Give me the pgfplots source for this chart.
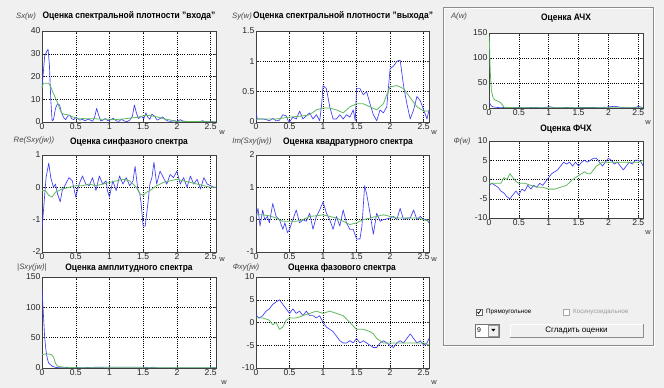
\documentclass[border=0pt]{standalone}
\usepackage{pgfplots}
\pgfplotsset{compat=1.18}
\usepackage{graphicx}
\usepackage{fontspec}
\setmainfont{Liberation Sans}
\definecolor{bg}{RGB}{240,240,240}
\definecolor{mblue}{RGB}{60,60,245}
\definecolor{mgreen}{RGB}{95,185,95}
\definecolor{lbl}{RGB}{70,70,70}
\pgfplotsset{
  gui/.style={
    scale only axis, anchor=south west,
    xmin=0, xmax=2.58,
    xtick={0,0.5,1,1.5,2,2.5},
    grid=major,
    major grid style={black, line width=0.4pt, dash pattern=on 0.9pt off 1.3pt},
    axis background/.style={fill=white},
    axis line style={black!75, line width=0.5pt},
    tick style={black!75, line width=0.4pt},
    major tick length=2bp,
    tick align=inside,
    ticklabel style={font=\fontsize{8.6}{9}\selectfont, text=black!85},
    /pgf/number format/assume math mode=true,
    xticklabel style={inner sep=1.5pt},
    yticklabel style={inner sep=1.5pt},
    every axis plot/.append style={no markers, line join=round},
  },
  bl/.style={mblue, line width=0.65pt},
  gr/.style={mgreen, line width=0.8pt},
}
\newcommand\ttl[3]{\node[font=\bfseries\fontsize{9.4}{10}\selectfont] at (#1bp,#2bp) {\scalebox{0.9}[1]{#3}};}
\newcommand\ylab[3]{\node[font=\itshape\fontsize{7.8}{9}\selectfont, text=lbl] at (#1bp,#2bp) {#3};}
\newcommand\wlab[2]{\node[font=\fontsize{7.5}{8}\selectfont, text=black!80] at (#1bp,#2bp) {w};}
\begin{document}
\begin{tikzpicture}
\path[use as bounding box, fill=bg] (0,0) rectangle (664bp,388bp);
% panel
\draw[black!45, line width=0.6pt] (443bp,43bp) rectangle (653bp,381bp);
\draw[white, line width=0.6pt] (444bp,44bp) -- (444bp,380bp) -- (652bp,380bp);
\draw[white, line width=0.6pt] (443bp,42bp) -- (654bp,42bp) -- (654bp,381bp);

% ---------- Plot 1: Sx ----------
\begin{axis}[gui, at={(42bp,266bp)}, width=174bp, height=91bp,
  ymin=0, ymax=40, ytick={0,10,20,30,40}]
\addplot[bl] coordinates {(0,15) (0.02,22) (0.04,29) (0.07,31) (0.09,32) (0.11,25) (0.13,10) (0.15,0.5) (0.17,1) (0.2,6) (0.23,8) (0.26,7.5) (0.29,4) (0.32,2) (0.35,1) (0.38,2.5) (0.41,3) (0.44,1.5) (0.47,1) (0.5,2) (0.53,1.5) (0.56,0.8) (0.6,1.2) (0.64,0.5) (0.68,1.3) (0.72,0.8) (0.75,0.3) (0.78,2) (0.81,6) (0.84,3) (0.87,0.5) (0.9,0.8) (0.94,1.5) (0.98,0.5) (1.02,1) (1.06,1.6) (1.1,0.5) (1.14,0.3) (1.18,1.2) (1.22,0.4) (1.26,0.2) (1.3,0.8) (1.34,2.5) (1.37,7.5) (1.40,4) (1.43,1.5) (1.47,2.5) (1.51,1.5) (1.54,4) (1.57,2) (1.6,1.2) (1.63,3.5) (1.67,2.5) (1.71,0.8) (1.75,1.5) (1.79,2.2) (1.83,1) (1.87,0.4) (1.92,0.3) (1.96,0.6) (2.0,0.2) (2.05,1) (2.1,0.3) (2.15,0.2) (2.2,0.1) (2.25,0.3) (2.3,0.1) (2.35,0.2) (2.38,0.6) (2.42,0.1) (2.5,0.1) (2.58,0.05)};
\addplot[gr] coordinates {(0,15) (0.02,17) (0.05,17) (0.1,17) (0.13,15.5) (0.17,12.5) (0.2,10.5) (0.23,8.5) (0.26,6) (0.29,4) (0.32,3.5) (0.36,3.3) (0.4,3) (0.45,2.3) (0.5,1.8) (0.55,1.4) (0.6,1.5) (0.7,1.4) (0.8,1.4) (0.9,1.2) (1.0,1.2) (1.1,1.1) (1.2,1.3) (1.3,1.7) (1.4,2) (1.45,2.3) (1.5,2.7) (1.55,3) (1.6,2.8) (1.7,2.3) (1.8,1.5) (1.9,0.9) (1.95,0.5) (2.0,0.3) (2.1,0.3) (2.2,0.2) (2.4,0.15) (2.58,0.1)};
\end{axis}
\ttl{129}{372}{Оценка спектральной плотности "входа"}
\ylab{26}{372}{Sx(w)}
\wlab{222}{255}

% ---------- Plot 2: Sy ----------
\begin{axis}[gui, at={(256bp,266bp)}, width=173bp, height=91bp,
  ymin=0, ymax=1.5, ytick={0,0.5,1,1.5}]
\addplot[bl] coordinates {(0,0.16) (0.02,0.05) (0.1,0.05) (0.15,0.04) (0.2,0.02) (0.25,0.06) (0.3,0.02) (0.35,0.03) (0.4,0.12) (0.45,0.1) (0.48,0.02) (0.5,0.0) (0.55,0.08) (0.6,0.05) (0.65,0.18) (0.7,0.05) (0.75,0.1) (0.8,0.15) (0.85,0.05) (0.9,0.12) (0.95,0.02) (0.98,0.3) (1.0,0.6) (1.05,0.55) (1.1,0.25) (1.15,0.05) (1.2,0.05) (1.25,0.12) (1.3,0.05) (1.35,0.12) (1.4,0.08) (1.45,0.2) (1.48,0.02) (1.5,0.55) (1.55,0.55) (1.6,0.45) (1.65,0.5) (1.7,0.3) (1.75,0.12) (1.8,0.02) (1.85,0.2) (1.9,0.15) (1.95,0.25) (2.0,0.88) (2.05,0.92) (2.1,1.0) (2.15,1.02) (2.2,0.6) (2.25,0.3) (2.3,0.05) (2.35,0.2) (2.4,0.42) (2.45,0.35) (2.5,0.2) (2.55,0.05) (2.58,0.2)};
\addplot[gr] coordinates {(0,0.05) (0.3,0.05) (0.5,0.08) (0.7,0.1) (0.8,0.12) (0.9,0.2) (1.0,0.23) (1.1,0.23) (1.2,0.2) (1.3,0.15) (1.4,0.25) (1.5,0.3) (1.6,0.3) (1.7,0.25) (1.8,0.2) (1.9,0.3) (1.95,0.45) (2.0,0.58) (2.1,0.6) (2.2,0.55) (2.3,0.4) (2.4,0.25) (2.5,0.18) (2.58,0.18)};
\end{axis}
\ttl{343}{372}{Оценка спектральной плотности "выхода"}
\ylab{242}{372}{Sy(w)}
\wlab{434}{255}

% ---------- Plot 3: A ----------
\begin{axis}[gui, at={(489bp,280bp)}, width=154bp, height=75bp,
  ymin=0, ymax=150, ytick={0,50,100,150}]
\addplot[bl] coordinates {(0,12) (0.02,8) (0.04,4) (0.08,2) (0.15,1) (0.2,0.5) (0.3,1.5) (0.35,0.3) (0.5,1) (0.6,0.3) (0.75,1.2) (0.9,0.3) (1.0,2.5) (1.05,2) (1.1,0.3) (1.3,1) (1.45,0.2) (1.55,1) (1.9,1.2) (2.0,2) (2.1,3.5) (2.2,1.5) (2.3,0.3) (2.45,1) (2.5,3) (2.55,2) (2.58,0.5)};
\addplot[gr] coordinates {(0,145) (0.005,135) (0.01,120) (0.02,75) (0.04,35) (0.07,20) (0.1,16) (0.15,14) (0.2,10) (0.23,5) (0.26,1) (0.3,0.8) (0.5,0.6) (1,0.5) (2.58,0.4)};
\end{axis}
\ttl{566}{370}{Оценка АЧХ}
\ylab{459}{372}{A(w)}
\wlab{648}{265}

% ---------- Plot 4: Re ----------
\begin{axis}[gui, at={(42bp,136bp)}, width=174bp, height=97bp,
  ymin=-2, ymax=1, ytick={-2,-1,0,1}]
\addplot[bl] coordinates {(0,-1.3) (0.03,-0.5) (0.06,0.3) (0.1,0.75) (0.13,0.3) (0.17,0.0) (0.2,0.1) (0.23,-0.2) (0.27,-0.45) (0.3,-0.1) (0.35,0.1) (0.4,0.3) (0.45,0.2) (0.5,-0.3) (0.55,0.1) (0.6,0.35) (0.65,0.1) (0.7,0.05) (0.75,0.3) (0.8,-0.1) (0.85,0.35) (0.9,0.1) (0.95,0.2) (0.97,-0.1) (1.0,-0.3) (1.05,0.2) (1.1,-0.1) (1.15,0.35) (1.2,0.1) (1.25,0.3) (1.3,0.05) (1.35,0.2) (1.38,0.65) (1.42,-0.05) (1.45,-0.2) (1.47,-0.5) (1.5,-1.2) (1.53,-1.2) (1.57,-0.5) (1.6,0.1) (1.63,0.3) (1.66,0.78) (1.7,0.1) (1.75,0.5) (1.8,0.3) (1.85,0.1) (1.9,0.4) (1.95,0.3) (2.0,0.5) (2.05,0.1) (2.1,0.3) (2.15,0.0) (2.2,0.35) (2.25,0.1) (2.3,0.25) (2.35,-0.05) (2.4,0.3) (2.45,0.1) (2.5,0.05) (2.55,0.0) (2.58,0.0)};
\addplot[gr] coordinates {(0,-0.1) (0.05,-0.1) (0.1,-0.25) (0.15,-0.3) (0.2,-0.15) (0.25,-0.1) (0.3,-0.05) (0.4,0.0) (0.5,0.05) (0.6,0.05) (0.7,0.1) (0.8,0.05) (0.9,0.1) (1.0,0.15) (1.1,0.2) (1.2,0.25) (1.3,0.2) (1.4,0.0) (1.45,-0.2) (1.5,-0.25) (1.55,-0.15) (1.6,-0.1) (1.7,0.05) (1.8,0.15) (1.9,0.2) (2.0,0.25) (2.1,0.2) (2.2,0.15) (2.3,0.1) (2.4,0.05) (2.5,0.0) (2.58,0.0)};
\end{axis}
\ttl{129}{246}{Оценка синфазного спектра}
\ylab{34}{248}{Re(Sxy(jw))}
\wlab{222}{128}

% ---------- Plot 5: Im ----------
\begin{axis}[gui, at={(256bp,136bp)}, width=173bp, height=97bp,
  ymin=-1, ymax=2, ytick={-1,0,1,2}]
\addplot[bl] coordinates {(0,0.05) (0.03,0.35) (0.06,-0.2) (0.1,0.3) (0.13,0.0) (0.17,0.1) (0.2,-0.1) (0.25,0.5) (0.3,0.1) (0.35,0.0) (0.4,-0.3) (0.43,-0.1) (0.47,-0.4) (0.5,-0.3) (0.55,0.0) (0.6,0.3) (0.65,-0.1) (0.7,0.0) (0.75,-0.05) (0.8,0.2) (0.85,-0.3) (0.9,0.1) (0.95,0.3) (1.0,0.55) (1.05,0.2) (1.1,0.0) (1.15,-0.3) (1.2,0.1) (1.25,-0.2) (1.3,0.3) (1.35,-0.1) (1.4,-0.3) (1.45,-0.3) (1.5,-0.6) (1.55,-0.6) (1.58,-0.2) (1.62,1.05) (1.65,0.8) (1.7,0.2) (1.75,-0.45) (1.8,0.2) (1.85,-0.05) (1.9,0.0) (2.0,0.05) (2.05,0.1) (2.1,0.0) (2.15,0.35) (2.2,0.0) (2.25,0.05) (2.3,0.05) (2.35,0.3) (2.4,0.0) (2.45,0.1) (2.5,0.0) (2.55,0.0) (2.58,-0.1)};
\addplot[gr] coordinates {(0,0.15) (0.1,0.15) (0.2,0.12) (0.3,0.05) (0.4,-0.05) (0.5,-0.05) (0.6,-0.05) (0.7,0.0) (0.8,0.1) (0.9,0.12) (1.0,0.15) (1.1,0.1) (1.2,0.05) (1.3,-0.05) (1.4,-0.15) (1.5,-0.1) (1.6,0.0) (1.7,0.05) (1.8,0.1) (1.9,0.15) (2.0,0.1) (2.1,0.05) (2.2,0.05) (2.3,0.05) (2.4,0.05) (2.5,0.0) (2.58,-0.05)};
\end{axis}
\ttl{348}{246}{Оценка квадратурного спектра}
\ylab{252}{247}{Im(Sxy(jw))}
\wlab{434}{128}

% ---------- Plot 6: Phi ----------
\begin{axis}[gui, at={(489bp,170bp)}, width=154bp, height=77bp,
  ymin=-10, ymax=10, ytick={-10,-5,0,5,10}]
\addplot[bl] coordinates {(0,-1.5) (0.05,-1.0) (0.1,-1.5) (0.15,-2) (0.2,-3) (0.25,-3.5) (0.3,-4.5) (0.35,-5) (0.4,-4) (0.45,-3) (0.5,-4) (0.55,-2.5) (0.6,-3) (0.65,-1.5) (0.7,-2.5) (0.75,-1.5) (0.8,-2) (0.85,-1) (0.9,-1.5) (0.95,-0.5) (1.0,0.5) (1.05,1.5) (1.1,2) (1.15,2.5) (1.2,3.5) (1.25,4.5) (1.3,4) (1.35,4.5) (1.4,3.5) (1.45,4.5) (1.5,3.5) (1.55,4.5) (1.6,5) (1.65,4.5) (1.7,5) (1.75,5.5) (1.8,5.5) (1.85,4.5) (1.9,3.5) (1.95,4.5) (2.0,5.5) (2.05,5) (2.1,4) (2.15,4.5) (2.2,3.5) (2.25,2.5) (2.3,3.5) (2.35,4.5) (2.4,4) (2.45,5) (2.5,5) (2.55,4.5) (2.58,3.5)};
\addplot[gr] coordinates {(0,-1) (0.1,-1) (0.2,-1) (0.25,0.5) (0.3,0) (0.35,1.5) (0.4,0.5) (0.45,-0.5) (0.5,-1) (0.6,-1) (0.7,-1.5) (0.8,-2) (0.9,-2) (1.0,-2.5) (1.1,-2.5) (1.2,-2) (1.3,-1.5) (1.4,0) (1.5,1) (1.55,1.5) (1.6,2) (1.65,1.5) (1.7,1.5) (1.75,2.5) (1.8,3.5) (1.85,4) (1.9,4.5) (2.0,4.5) (2.2,4.5) (2.4,4.5) (2.5,4.5) (2.58,5)};
\end{axis}
\ttl{566}{259}{Оценка ФЧХ}
\ylab{462}{247}{Ф(w)}
\wlab{648}{155}

% ---------- Plot 7: |Sxy| ----------
\begin{axis}[gui, at={(42bp,20bp)}, width=174bp, height=91bp,
  ymin=0, ymax=150, ytick={0,50,100,150}]
\addplot[bl] coordinates {(0,130) (0.005,120) (0.02,90) (0.04,50) (0.06,28) (0.08,15) (0.1,8) (0.15,3) (0.2,1) (0.25,0.5) (0.5,1) (0.6,0.2) (0.7,1) (1.0,1.5) (1.5,1.5) (1.6,0.3) (1.65,1.5) (1.7,0.2) (2.58,0.3)};
\addplot[gr] coordinates {(0,22) (0.05,23) (0.1,23) (0.14,22) (0.17,18) (0.2,8) (0.23,3) (0.3,1.5) (0.5,0.5) (2.58,0.3)};
\end{axis}
\ttl{129}{120}{Оценка амплитудного спектра}
\ylab{32}{120}{|Sxy(jw)|}
\wlab{224}{5}

% ---------- Plot 8: Phixy ----------
\begin{axis}[gui, at={(256bp,20bp)}, width=173bp, height=91bp,
  ymin=-10, ymax=10, ytick={-10,-5,0,5,10}]
\addplot[bl] coordinates {(0,1.5) (0.05,1.0) (0.1,1.5) (0.15,2.5) (0.2,3) (0.25,4) (0.3,4.5) (0.35,5) (0.4,4) (0.45,3) (0.5,2) (0.55,3) (0.6,2) (0.65,2.5) (0.7,1.5) (0.75,2.5) (0.8,1.5) (0.85,1.5) (0.9,1) (0.95,1.5) (1.0,0) (1.05,-1) (1.1,-1.5) (1.15,-2) (1.2,-3) (1.25,-4) (1.3,-4.5) (1.35,-4.5) (1.4,-4) (1.45,-4.5) (1.5,-3.5) (1.55,-4.5) (1.6,-4) (1.65,-4.5) (1.7,-5) (1.75,-5.5) (1.8,-5.5) (1.85,-4.5) (1.9,-4) (1.95,-4.5) (2.0,-5) (2.05,-5.5) (2.1,-4.5) (2.15,-4) (2.2,-4.5) (2.25,-3.5) (2.3,-2.5) (2.35,-3.5) (2.4,-4.5) (2.45,-4) (2.5,-5) (2.55,-4.5) (2.58,-3.5)};
\addplot[gr] coordinates {(0,1) (0.1,1) (0.2,0.5) (0.25,-0.5) (0.3,0) (0.35,-1.5) (0.4,-1) (0.45,0.5) (0.5,1) (0.6,1) (0.7,1.5) (0.8,2) (0.9,2.5) (1.0,2) (1.1,2.5) (1.2,2) (1.3,1.5) (1.4,0) (1.5,-1.5) (1.6,-1.5) (1.7,-2) (1.75,-2.5) (1.8,-3.5) (1.85,-4) (1.9,-4.5) (2.0,-4.5) (2.2,-4.5) (2.4,-4.5) (2.5,-4.5) (2.58,-5)};
\end{axis}
\ttl{342}{120}{Оценка фазового спектра}
\ylab{246}{121}{Фxy(jw)}
\wlab{434}{5}

% ---------- controls ----------
\draw[black!60, fill=white, line width=0.4pt] (476bp,73bp) rectangle (482bp,79bp);
\draw[black, line width=0.7pt] (477.3bp,76bp) -- (478.6bp,74.6bp) -- (480.8bp,77.8bp);
\node[anchor=west, font=\fontsize{6.3}{7}\selectfont, inner sep=0pt] at (486bp,76bp) {Прямоугольное};
\draw[black!35, fill=white, line width=0.4pt] (563bp,73bp) rectangle (569bp,79bp);
\node[anchor=west, font=\fontsize{6.3}{7}\selectfont, inner sep=0pt, text=black!40] at (573bp,76bp) {Косинусоидальное};
% dropdown
\draw[black!55, fill=white, line width=0.4pt] (475bp,51bp) rectangle (499bp,64bp);
\node[anchor=west, font=\fontsize{7}{8}\selectfont, inner sep=0pt] at (477bp,57.5bp) {9};
\draw[black!40, fill=bg, line width=0.3pt] (488.5bp,52bp) rectangle (498bp,63bp);
\fill[black] (491.3bp,59bp) -- (495.3bp,59bp) -- (493.3bp,56.5bp) -- cycle;
% button
\fill[bg] (510bp,51bp) rectangle (643bp,64bp);
\draw[white, line width=0.6pt] (510bp,51bp) -- (510bp,64bp) -- (643bp,64bp);
\draw[black!45, line width=0.6pt] (510bp,51bp) -- (643bp,51bp) -- (643bp,64bp);
\node[font=\fontsize{8}{9}\selectfont] at (576.5bp,57.5bp) {Сгладить оценки};
\end{tikzpicture}
\end{document}
